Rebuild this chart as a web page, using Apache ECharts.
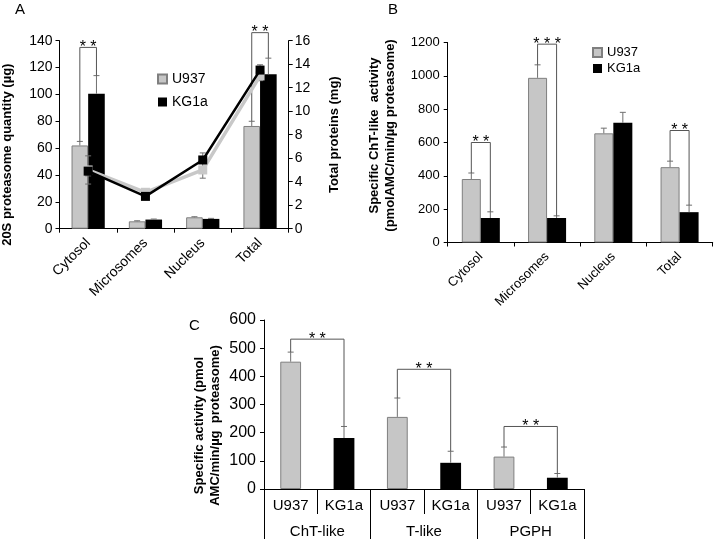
<!DOCTYPE html>
<html><head><meta charset="utf-8">
<script src="https://cdn.jsdelivr.net/npm/echarts@6/dist/echarts.min.js"></script>
<style>html,body{margin:0;padding:0;background:#fff}#c{width:714px;height:539px}</style>
</head><body><div id="c"></div>
<script>
// ---------- Panel A ----------
const fractionsA = ['Cytosol', 'Microsomes', 'Nucleus', 'Total'];
const u937Qty = [62, 5.5, 8.5, 76.5];
const u937QtyErr = [3, 0.4, 0.4, 3.5];
const kg1aQty = [100.5, 6.8, 7.3, 115];
const kg1aQtyErr = [13.5, 0.4, 0.4, 12];
const u937Prot = [5.0, 3.1, 5.0, 13.0];
const u937ProtErr = [1.2, 0.3, 0.7, 0.4];
const kg1aProt = [4.9, 2.75, 5.85, 13.5];
const kg1aProtErr = [0.4, 0.2, 0.6, 0.45];
// [left category, right category, bracket height, left foot, right foot]
const sigA = [[0, 0, 135, 65, 114], [3, 3, 146, 80, 127]];
const sigLabelsA = ['* *', '* *'];

// ---------- Panel B ----------
const fractionsB = ['Cytosol', 'Microsomes', 'Nucleus', 'Total'];
const u937ChT = [381, 988, 655, 452];
const u937ChTErr = [36, 78, 31, 36];
const kg1aChT = [147, 147, 718, 182];
const kg1aChTErr = [37, 13, 63, 42];
const sigB = [[0, 0, 600, 417, 184], [1, 1, 1190, 1066, 160], [3, 3, 672, 488, 224]];
const sigLabelsB = ['* *', '* * *', '* *'];

// ---------- Panel C ----------
const cellLines = ['U937', 'KG1a', 'U937', 'KG1a', 'U937', 'KG1a'];
const activities = ['ChT-like', 'T-like', 'PGPH'];
const u937Spec = [452, 256, 115];
const u937SpecErr = [34, 67, 34];
const kg1aSpec = [181, 93, 40];
const kg1aSpecErr = [41, 41, 15];
const sigC = [[0, 1, 532, 486, 222], [2, 3, 425, 323, 134], [4, 5, 222, 149, 55]];
const sigLabelsC = ['* *', '* *', '* *'];

const FONT = "'Liberation Sans', Arial, sans-serif";
const GRAY = '#c6c6c6';
const GRAY_EDGE = '#7f7f7f';
const ERR = '#6f6f6f';

function slot(vals, parity) { // spread 3 values over 6 categories
  const out = [];
  vals.forEach(v => { if (parity === 0) out.push(v, null); else out.push(null, v); });
  return out;
}

function errSeries(xi, yi, vals, errs, shift, both) {
  return {
    type: 'custom', xAxisIndex: xi, yAxisIndex: yi, z: 6, silent: true, clip: false,
    data: vals.map((v, i) => v == null ? null : [i, v, errs[i]]).filter(d => d),
    encode: { x: 0, y: 1 },
    renderItem(params, api) {
      const i = api.value(0), v = api.value(1), e = api.value(2);
      const band = api.size([1, 0])[0];
      const top = api.coord([i, v + e]);
      const bot = api.coord([i, both ? v - e : v]);
      const x = top[0] + shift * band;
      const cap = 3;
      const st = { stroke: ERR, lineWidth: 1 };
      const ch = [
        { type: 'line', shape: { x1: x, y1: top[1], x2: x, y2: bot[1] }, style: st },
        { type: 'line', shape: { x1: x - cap, y1: top[1], x2: x + cap, y2: top[1] }, style: st }
      ];
      if (both) ch.push({ type: 'line', shape: { x1: x - cap, y1: bot[1], x2: x + cap, y2: bot[1] }, style: st });
      return { type: 'group', children: ch };
    }
  };
}

function sigSeries(xi, yi, items, labels, shift) {
  return {
    type: 'custom', xAxisIndex: xi, yAxisIndex: yi, z: 7, silent: true, clip: false,
    data: items,
    encode: { x: 0, y: 2 },
    renderItem(params, api) {
      const l = api.value(0), r = api.value(1), h = api.value(2), lb = api.value(3), rb = api.value(4);
      const band = api.size([1, 0])[0];
      const pL = api.coord([l, h]), pR = api.coord([r, h]);
      const xL = pL[0] - shift * band, xR = pR[0] + shift * band;
      const yT = pL[1];
      const yLB = api.coord([l, lb])[1], yRB = api.coord([r, rb])[1];
      return { type: 'group', children: [
        { type: 'polyline', shape: { points: [[xL, yLB], [xL, yT], [xR, yT], [xR, yRB]] },
          style: { stroke: '#555', lineWidth: 1, fill: null } },
        { type: 'text', x: (xL + xR) / 2, y: yT + 8,
          style: { text: labels[params.dataIndex], align: 'center', verticalAlign: 'bottom',
                   fontSize: 16, fontFamily: FONT, fill: '#000' } }
      ] };
    }
  };
}

const axisLineBlack = { show: true, lineStyle: { color: '#000', width: 1 } };
const tickBlack = (len) => ({ show: true, length: len, interval: 0, lineStyle: { color: '#000', width: 1 } });
const nameStyle = (pad) => ({ fontWeight: 'bold', fontSize: 13, fontFamily: FONT, color: '#000', lineHeight: 16, padding: pad });
const plain = v => String(v);

const chart = echarts.init(document.getElementById('c'), null, { renderer: 'canvas' });
chart.setOption({
  backgroundColor: '#fff',
  animation: false,
  textStyle: { fontFamily: FONT, color: '#000' },
  title: [
    { text: 'A', left: 10, top: -3, textStyle: { fontSize: 15, fontWeight: 'normal', fontFamily: FONT, color: '#000' } },
    { text: 'B', left: 383, top: -3, textStyle: { fontSize: 15, fontWeight: 'normal', fontFamily: FONT, color: '#000' } },
    { text: 'C', left: 184, top: 313, textStyle: { fontSize: 15, fontWeight: 'normal', fontFamily: FONT, color: '#000' } }
  ],
  legend: [
    { data: ['U937', 'KG1a'], orient: 'vertical', left: 157, top: 72, itemWidth: 9, itemHeight: 9, itemGap: 9,
      icon: 'rect', selectedMode: false, textStyle: { fontSize: 14, fontFamily: FONT, color: '#000' }, padding: 0 },
    { data: ['U937', 'KG1a'], orient: 'vertical', left: 592, top: 46, itemWidth: 9, itemHeight: 9, itemGap: 3,
      icon: 'rect', selectedMode: false, textStyle: { fontSize: 13, fontFamily: FONT, color: '#000' }, padding: 0 }
  ],
  grid: [
    { left: 59.5, top: 40.7, width: 229.2, height: 188, containLabel: false, outerBoundsMode: 'none' },
    { left: 447.7, top: 42.5, width: 265, height: 200, containLabel: false, outerBoundsMode: 'none' },
    { left: 264, top: 320, width: 320, height: 169, containLabel: false, outerBoundsMode: 'none' }
  ],
  xAxis: [
    { gridIndex: 0, type: 'category', data: fractionsA, axisLine: axisLineBlack, axisTick: tickBlack(4),
      axisLabel: { interval: 0, rotate: 45, fontSize: 14, color: '#000', margin: 12 } },
    { gridIndex: 1, type: 'category', data: fractionsB, axisLine: axisLineBlack, axisTick: tickBlack(4),
      axisLabel: { interval: 0, rotate: 45, fontSize: 13, color: '#000', margin: 12 } },
    { gridIndex: 2, type: 'category', data: cellLines, position: 'bottom', axisLine: axisLineBlack, axisTick: tickBlack(25),
      axisLabel: { interval: 0, fontSize: 15, color: '#000', margin: 9 } },
    { gridIndex: 2, type: 'category', data: activities, position: 'bottom', axisLine: { show: false }, axisTick: tickBlack(50),
      axisLabel: { interval: 0, fontSize: 15, color: '#000', margin: 35 } }
  ],
  yAxis: [
    { gridIndex: 0, type: 'value', position: 'left', min: 0, max: 140, interval: 20,
      name: '20S proteasome quantity (µg)', nameLocation: 'middle', nameRotate: 90, nameGap: 44,
      nameTextStyle: nameStyle([0, 40, 0, 0]),
      axisLine: axisLineBlack, axisTick: tickBlack(4), splitLine: { show: false },
      axisLabel: { fontSize: 14, color: '#000', margin: 7, formatter: plain } },
    { gridIndex: 0, type: 'value', position: 'right', min: 0, max: 16, interval: 2,
      name: 'Total proteins (mg)', nameLocation: 'middle', nameRotate: 90, nameGap: 38, nameTextStyle: nameStyle([0, 0, 0, 0]),
      axisLine: axisLineBlack, axisTick: tickBlack(4), splitLine: { show: false },
      axisLabel: { fontSize: 14, color: '#000', margin: 6, formatter: plain } },
    { gridIndex: 1, type: 'value', position: 'left', min: 0, max: 1200, interval: 200,
      name: 'Specific ChT-like  activity\n(pmolAMC/min/µg proteasome)', nameLocation: 'middle', nameRotate: 90, nameGap: 49,
      nameTextStyle: nameStyle([0, 0, 0, 14]),
      axisLine: axisLineBlack, axisTick: tickBlack(4), splitLine: { show: false },
      axisLabel: { fontSize: 13, color: '#000', margin: 8, formatter: plain } },
    { gridIndex: 2, type: 'value', position: 'left', min: 0, max: 600, interval: 100,
      name: 'Specific activity (pmol\nAMC/min/µg  proteasome)', nameLocation: 'middle', nameRotate: 90, nameGap: 41,
      nameTextStyle: nameStyle([0, 42, 0, 0]),
      axisLine: axisLineBlack, axisTick: tickBlack(4), splitLine: { show: false },
      axisLabel: { fontSize: 16, color: '#000', margin: 8, formatter: plain } }
  ],
  series: [
    // Panel A bars
    { type: 'bar', name: 'U937', xAxisIndex: 0, yAxisIndex: 0, data: u937Qty, barWidth: '29%', barGap: '0%',
      itemStyle: { color: GRAY, borderColor: GRAY_EDGE, borderWidth: 1 } },
    { type: 'bar', name: 'KG1a', xAxisIndex: 0, yAxisIndex: 0, data: kg1aQty, barWidth: '29%', barGap: '0%',
      itemStyle: { color: '#000' } },
    errSeries(0, 0, u937Qty, u937QtyErr, -0.145, false),
    errSeries(0, 0, kg1aQty, kg1aQtyErr, 0.145, false),
    // Panel A lines (right axis)
    { type: 'line', name: 'U937 total proteins', xAxisIndex: 0, yAxisIndex: 1, data: u937Prot, z: 8,
      symbol: 'rect', symbolSize: 9, lineStyle: { color: '#c8c8c8', width: 3.5 }, itemStyle: { color: '#c8c8c8' } },
    errSeries(0, 1, u937Prot, u937ProtErr, 0, true),
    { type: 'line', name: 'KG1a total proteins', xAxisIndex: 0, yAxisIndex: 1, data: kg1aProt, z: 9,
      symbol: 'rect', symbolSize: 9, lineStyle: { color: '#000', width: 2.5 }, itemStyle: { color: '#000' } },
    errSeries(0, 1, kg1aProt, kg1aProtErr, 0, true),
    sigSeries(0, 0, sigA, sigLabelsA, 0.145),
    // Panel B
    { type: 'bar', name: 'U937', xAxisIndex: 1, yAxisIndex: 2, data: u937ChT, barWidth: '28.7%', barGap: '0%',
      itemStyle: { color: GRAY, borderColor: GRAY_EDGE, borderWidth: 1 } },
    { type: 'bar', name: 'KG1a', xAxisIndex: 1, yAxisIndex: 2, data: kg1aChT, barWidth: '28.7%', barGap: '0%',
      itemStyle: { color: '#000' } },
    errSeries(1, 2, u937ChT, u937ChTErr, -0.1435, false),
    errSeries(1, 2, kg1aChT, kg1aChTErr, 0.1435, false),
    sigSeries(1, 2, sigB, sigLabelsB, 0.1435),
    // Panel C
    { type: 'bar', name: 'U937', xAxisIndex: 2, yAxisIndex: 3, data: slot(u937Spec, 0), barWidth: '39%', barGap: '-100%',
      itemStyle: { color: GRAY, borderColor: GRAY_EDGE, borderWidth: 1 } },
    { type: 'bar', name: 'KG1a', xAxisIndex: 2, yAxisIndex: 3, data: slot(kg1aSpec, 1), barWidth: '39%', barGap: '-100%',
      itemStyle: { color: '#000' } },
    errSeries(2, 3, slot(u937Spec, 0), slot(u937SpecErr, 0), 0, false),
    errSeries(2, 3, slot(kg1aSpec, 1), slot(kg1aSpecErr, 1), 0, false),
    sigSeries(2, 3, sigC, sigLabelsC, 0)
  ]
});
</script></body></html>
